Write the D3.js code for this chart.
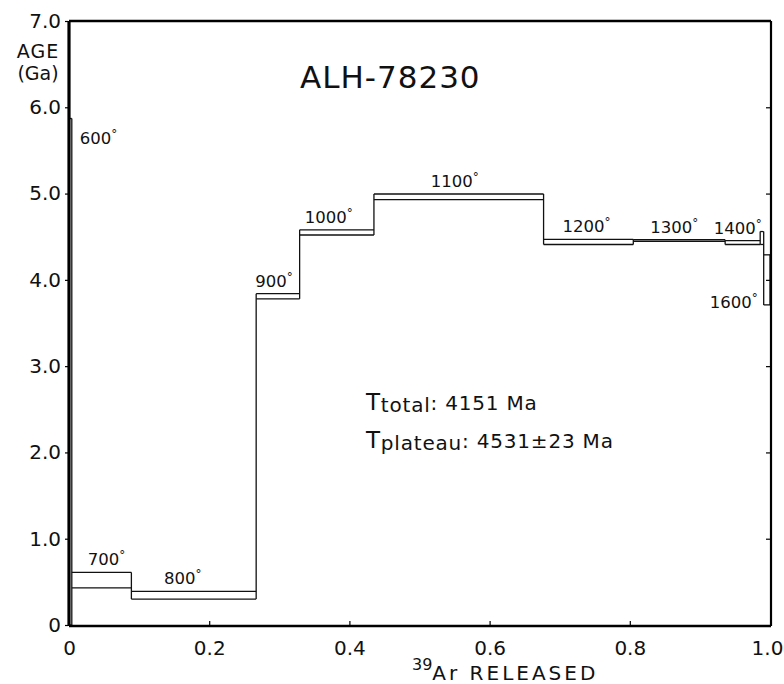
<!DOCTYPE html>
<html>
<head>
<meta charset="utf-8">
<script src="https://cdn.jsdelivr.net/npm/d3@7"></script>
<style>
  body { margin: 0; background: #fff; }
  svg { font-family: "DejaVu Sans", sans-serif; }
  .edge { stroke: #111; stroke-width: 1.3; }
  .frame { fill: none; stroke: #000; }
  text { fill: #111; }
</style>
</head>
<body>
<svg id="chart" width="784" height="684"></svg>
<script>
// temperature steps of the release spectrum
let temps  = ['600', '700', '800', '900', '1000', '1100', '1200', '1300', '1400', '', '1600'];
// cumulative 39Ar fraction at the start and end of each step
let fracStart = [0.000, 0.004, 0.089, 0.267, 0.329, 0.435, 0.677, 0.805, 0.936, 0.986, 0.991];
let fracEnd   = [0.004, 0.089, 0.267, 0.329, 0.435, 0.677, 0.805, 0.936, 0.986, 0.991, 1.000];
// age window (Ga) of each step, lower and upper edge
let ageLow  = [0.00, 0.43, 0.30, 3.78, 4.52, 4.93, 4.41, 4.445, 4.41, 4.41, 3.71];
let ageHigh = [5.87, 0.61, 0.39, 3.84, 4.58, 4.995, 4.47, 4.465, 4.455, 4.56, 4.29];

let xTicks = [0, 0.2, 0.4, 0.6, 0.8, 1.0];
let xTickLabels = ['0', '0.2', '0.4', '0.6', '0.8', '1.0'];
let yTicks = [0, 1, 2, 3, 4, 5, 6, 7];
let yTickLabels = ['0', '1.0', '2.0', '3.0', '4.0', '5.0', '6.0', '7.0'];

// label nudges where the label is not simply centred above its box
var labelShift = {
    '600':  { dx: 28, dy: 32 },
    '700':  { dx: 5,  dy: 0 },
    '800':  { dx: -11, dy: 0 },
    '900':  { dx: -4, dy: 0 },
    '1000': { dx: -8, dy: 0 },
    '1100': { dx: -4, dy: 0 },
    '1200': { dx: -2, dy: 0 },
    '1300': { dx: -5, dy: 0 },
    '1400': { dx: -5, dy: 0 },
    '1600': { dx: -33, dy: 60 }
}

var config = {
    left: 69,
    right: 770,
    top: 21,
    bottom: 625
}

let svg = d3.select('#chart');

let x = d3.scaleLinear().domain([0, 1]).range([config.left, config.right]);
let y = d3.scaleLinear().domain([0, 7]).range([config.bottom, config.top]);

let steps = temps.map(function(t, i){
    return { temp: t, x0: fracStart[i], x1: fracEnd[i], lo: ageLow[i], hi: ageHigh[i] };
});

function getSegments(){
    // horizontal edges of every step, plus one vertical per boundary
    // spanning both neighbouring windows
    let segs = [];
    for(let i = 0; i < steps.length; i++){
        let s = steps[i];
        segs.push({ x1: s.x0, x2: s.x1, y1: s.hi, y2: s.hi, w: s.temp == '1300' ? 1.8 : 1.3 });
        segs.push({ x1: s.x0, x2: s.x1, y1: s.lo, y2: s.lo, w: s.temp == '1300' ? 1.8 : 1.3 });
        let lo = s.lo;
        let hi = s.hi;
        if (i > 0){
            lo = Math.min(lo, steps[i - 1].lo);
            hi = Math.max(hi, steps[i - 1].hi);
        }
        segs.push({ x1: s.x0, x2: s.x0, y1: lo, y2: hi, w: 1.3 });
        if (i + 1 == steps.length){
            segs.push({ x1: s.x1, x2: s.x1, y1: s.lo, y2: s.hi, w: 1.3 });
        }
    }
    return segs;
}

svg.append('g')
    .selectAll('line')
    .data(getSegments())
    .join('line')
    .attr('class', 'edge')
    .attr('x1', function(d){ return x(d.x1) })
    .attr('x2', function(d){ return x(d.x2) })
    .attr('y1', function(d){ return y(d.y1) })
    .attr('y2', function(d){ return y(d.y2) })
    .attr('stroke-width', function(d){ return d.w });

// temperature labels
let lab = svg.append('g')
    .selectAll('text')
    .data(steps.filter(function(d){ return d.temp != '' }))
    .join('text')
    .attr('text-anchor', 'middle')
    .attr('font-size', 16.5)
    .attr('x', function(d){ return (x(d.x0) + x(d.x1)) / 2 + labelShift[d.temp].dx })
    .attr('y', function(d){ return y(d.hi) - 7 + labelShift[d.temp].dy })
    .text(function(d){ return d.temp });
lab.append('tspan')
    .attr('font-size', 12)
    .attr('dy', -6)
    .text('°');

// frame
svg.append('line').attr('class', 'frame')
    .attr('x1', config.left).attr('x2', config.left)
    .attr('y1', config.top).attr('y2', config.bottom + 1)
    .attr('stroke-width', 3.2);
svg.append('line').attr('class', 'frame')
    .attr('x1', config.left).attr('x2', config.right + 1)
    .attr('y1', config.bottom + 1).attr('y2', config.bottom + 1)
    .attr('stroke-width', 2.6);
svg.append('line').attr('class', 'frame')
    .attr('x1', config.left).attr('x2', config.right + 1)
    .attr('y1', config.top).attr('y2', config.top)
    .attr('stroke-width', 2.6);
svg.append('line').attr('class', 'frame')
    .attr('x1', config.right + 1).attr('x2', config.right + 1)
    .attr('y1', config.top).attr('y2', config.bottom + 1)
    .attr('stroke-width', 2.2);

// x axis ticks and labels
let xAxis = d3.axisBottom(x)
    .tickValues(xTicks)
    .tickSize(-5)
    .tickPadding(15)
    .tickFormat(function(d, i){ return xTickLabels[i] });
let gx = svg.append('g')
    .attr('transform', 'translate(0,' + (config.bottom + 1) + ')')
    .call(xAxis);
gx.select('.domain').remove();
gx.selectAll('.tick line').attr('stroke', '#000').attr('stroke-width', 1.2)
    .filter(function(d){ return d == 0 || d == 1 }).remove();
gx.selectAll('.tick text')
    .attr('font-size', 20)
    .attr('font-family', '"DejaVu Sans", sans-serif')
    .attr('fill', '#111')
    .attr('dx', function(d){ return d == 1 ? -3 : 0 });

// y axis ticks and labels
let yAxis = d3.axisLeft(y)
    .tickValues(yTicks)
    .tickSize(3)
    .tickPadding(4)
    .tickFormat(function(d, i){ return yTickLabels[i] });
let gy = svg.append('g')
    .attr('transform', 'translate(' + (config.left - 1) + ',0)')
    .call(yAxis);
gy.select('.domain').remove();
gy.selectAll('.tick line').attr('stroke', '#000').attr('stroke-width', 1.2);
gy.selectAll('.tick text')
    .attr('font-size', 20)
    .attr('font-family', '"DejaVu Sans", sans-serif')
    .attr('fill', '#111');

// right side inner ticks
let yRight = d3.axisLeft(y)
    .tickValues(yTicks.slice(1, 7))
    .tickSize(5)
    .tickFormat('');
let gr = svg.append('g')
    .attr('transform', 'translate(' + (config.right + 1) + ',0)')
    .call(yRight);
gr.select('.domain').remove();
gr.selectAll('.tick line').attr('stroke', '#000').attr('stroke-width', 1.2);

// axis titles
svg.append('text').attr('x', 38).attr('y', 58)
    .attr('text-anchor', 'middle').attr('font-size', 19).attr('letter-spacing', 1).text('AGE');
svg.append('text').attr('x', 38).attr('y', 80)
    .attr('text-anchor', 'middle').attr('font-size', 19).text('(Ga)');

let xt = svg.append('text').attr('x', 412).attr('y', 680).attr('font-size', 20);
xt.append('tspan').attr('font-size', 16).attr('dy', -10).text('39');
xt.append('tspan').attr('dy', 10).attr('font-size', 20).attr('letter-spacing', 3).text('Ar RELEASED');

// sample name
svg.append('text').attr('x', 300).attr('y', 88)
    .attr('font-size', 31).attr('letter-spacing', 1).text('ALH-78230');

// ages
let t1 = svg.append('text').attr('x', 366).attr('y', 410).attr('font-size', 20).attr('letter-spacing', 0.8);
t1.append('tspan').attr('font-size', 23).text('T');
t1.append('tspan').attr('dy', 2).text('total');
t1.append('tspan').attr('dy', -2).text(': 4151 Ma');

let t2 = svg.append('text').attr('x', 366).attr('y', 448).attr('font-size', 20).attr('letter-spacing', 0.8);
t2.append('tspan').attr('font-size', 23).text('T');
t2.append('tspan').attr('dy', 2).text('plateau');
t2.append('tspan').attr('dy', -2).text(': 4531±23 Ma');
</script>
</body>
</html>
